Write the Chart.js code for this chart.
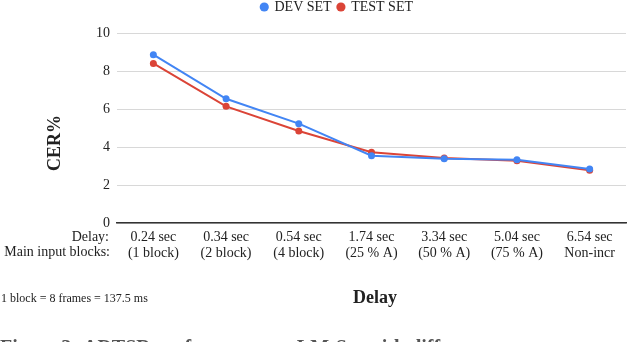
<!DOCTYPE html>
<html>
<head>
<meta charset="utf-8">
<script src="https://cdn.jsdelivr.net/npm/chart.js@4"></script>
<style>
  html, body { margin: 0; padding: 0; background: #fff; }
  #wrap { width: 630px; height: 342px; position: relative; }
</style>
</head>
<body>
<div id="wrap"><canvas id="grafico" width="630" height="342"></canvas></div>
<script>
// Dados
const categorias = [
  ["0.24 sec", "(1 block)"],
  ["0.34 sec", "(2 block)"],
  ["0.54 sec", "(4 block)"],
  ["1.74 sec", "(25 % A)"],
  ["3.34 sec", "(50 % A)"],
  ["5.04 sec", "(75 % A)"],
  ["6.54 sec", "Non-incr"]
];
const devSet = [8.86, 6.54, 5.23, 3.54, 3.38, 3.33, 2.84];
const testSet = [8.40, 6.14, 4.84, 3.72, 3.42, 3.28, 2.77];
const nomesSeries = ["DEV SET", "TEST SET"];
const linhasEixo = ["Delay:", "Main input blocks:"];
const notaBloco = "1 block = 8 frames = 137.5 ms";
const tituloY = "CER%";
const tituloX = "Delay";
const legenda = "Figure 3: ADTSR performance on LM-Set with different";

const serif = "'Liberation Serif', 'Times New Roman', serif";

// Ajusta altura e posição da legenda
const ajusteLegenda = {
  id: "ajusteLegenda",
  beforeInit(chart) {
    const leg = chart.legend;
    if (!leg) return;
    const fitOrig = leg.fit;
    leg.fit = function () {
      fitOrig.call(this);
      this.height = 33;
    };
    const drawOrig = leg.draw;
    leg.draw = function () {
      const c = this.ctx;
      c.save();
      c.translate(22, -6);
      drawOrig.call(this);
      c.restore();
    };
  }
};

// Textos extras desenhados no canvas
const textosExtras = {
  id: "textosExtras",
  afterDraw(chart) {
    const ctx = chart.ctx;
    ctx.save();
    ctx.fillStyle = "#222";
    ctx.textAlign = "right";
    ctx.textBaseline = "middle";
    ctx.font = "14px " + serif;
    ctx.fillText(linhasEixo[0], 109, 237);
    ctx.fillText(linhasEixo[1], 110, 252);

    ctx.textAlign = "left";
    ctx.font = "12px " + serif;
    ctx.textBaseline = "alphabetic";
    ctx.fillText(notaBloco, 1, 302);

    ctx.font = "bold 18px " + serif;
    ctx.textAlign = "center";
    ctx.fillText(tituloX, 375, 303);

    ctx.save();
    ctx.translate(60, 143);
    ctx.rotate(-Math.PI / 2);
    ctx.fillText(tituloY, 0, 0);
    ctx.restore();

    // legenda da figura, cortada pela borda inferior
    ctx.textAlign = "left";
    ctx.fillStyle = "#555";
    ctx.font = "bold 20px " + serif;
    ctx.fillText(legenda, 0, 354);
    ctx.restore();
  }
};

const ctx = document.getElementById("grafico");
new Chart(ctx, {
  type: "line",
  data: {
    labels: categorias,
    datasets: [
      {
        label: nomesSeries[0],
        data: devSet,
        borderColor: "#4285f4",
        backgroundColor: "#4285f4",
        borderWidth: 2,
        pointRadius: 3.5,
        pointBorderWidth: 0,
        tension: 0
      },
      {
        label: nomesSeries[1],
        data: testSet,
        borderColor: "#db4437",
        backgroundColor: "#db4437",
        borderWidth: 2,
        pointRadius: 3.5,
        pointBorderWidth: 0,
        tension: 0
      }
    ]
  },
  options: {
    responsive: false,
    animation: false,
    devicePixelRatio: 1,
    layout: { padding: { top: 0, left: 0, right: 0, bottom: 0 } },
    plugins: {
      legend: {
        position: "top",
        labels: {
          usePointStyle: true,
          pointStyle: "circle",
          boxWidth: 6.5,
          boxHeight: 6.5,
          padding: 6,
          color: "#222",
          font: { family: serif, size: 14 }
        }
      },
      tooltip: { enabled: false }
    },
    scales: {
      x: {
        offset: true,
        grid: { display: false, drawTicks: false },
        border: { display: true, color: "#333", width: 1.5 },
        ticks: {
          color: "#222",
          padding: 7,
          maxRotation: 0,
          autoSkip: false,
          font: { family: serif, size: 14, lineHeight: 1.1 }
        },
        afterFit(scale) { scale.height = 119; }
      },
      y: {
        min: 0,
        max: 10,
        ticks: {
          stepSize: 2,
          color: "#222",
          padding: 7,
          font: { family: serif, size: 14 }
        },
        grid: { color: "#d8d8d8", lineWidth: 1, drawTicks: false },
        border: { display: false },
        afterFit(scale) { scale.width = 117; }
      }
    }
  },
  plugins: [ajusteLegenda, textosExtras]
});
</script>
</body>
</html>
